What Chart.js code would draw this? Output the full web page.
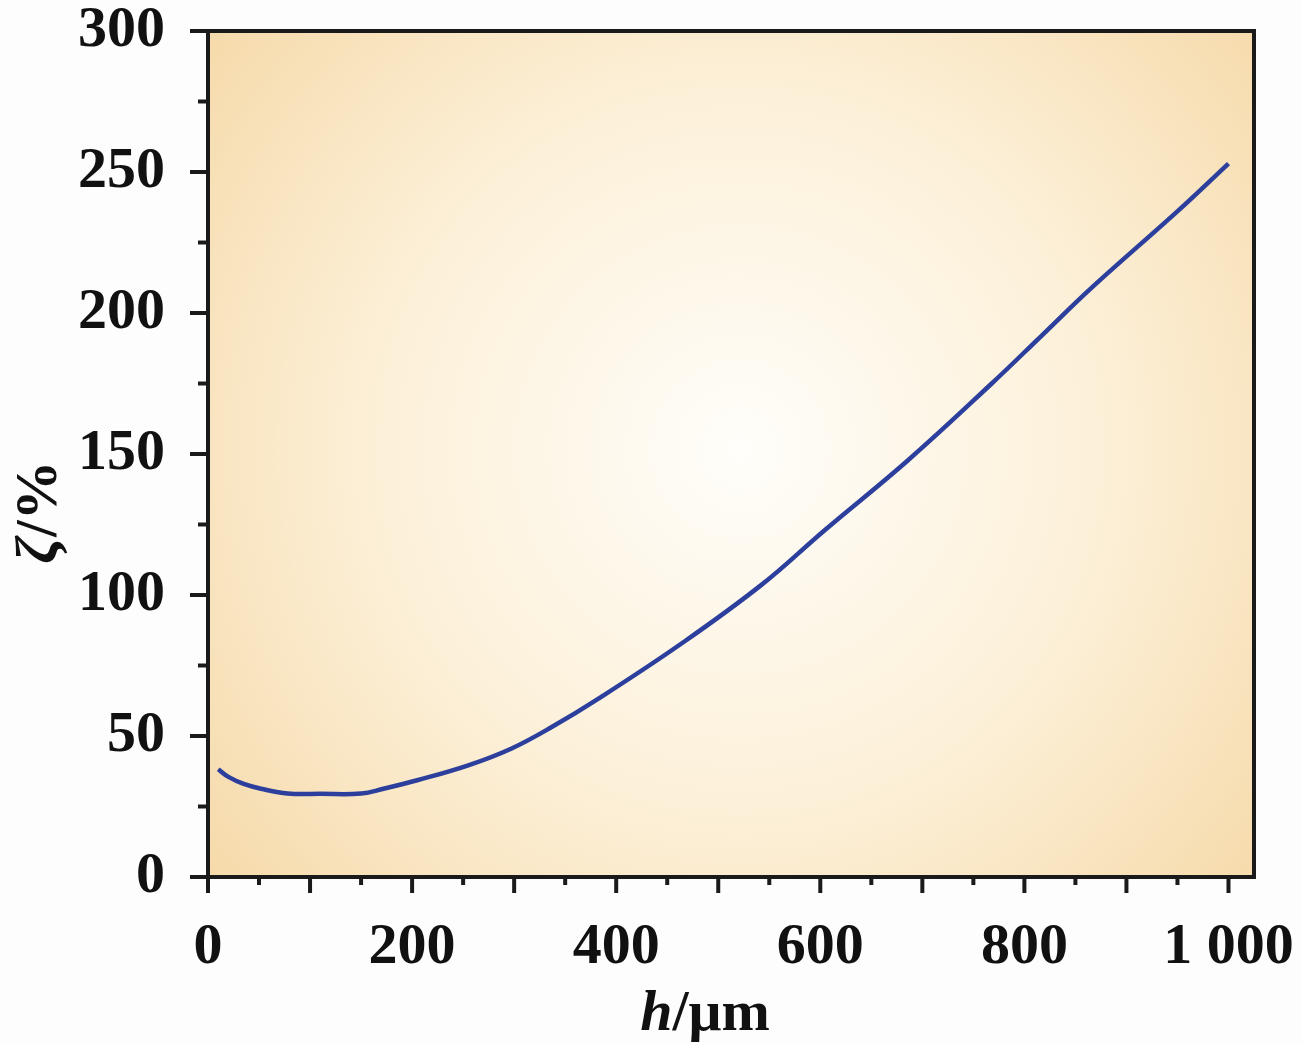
<!DOCTYPE html>
<html>
<head>
<meta charset="utf-8">
<script src="https://cdn.jsdelivr.net/npm/chart.js@4"></script>
<style>
  html, body { margin: 0; padding: 0; background: #fdfdfd; }
  #wrap { width: 1302px; height: 1044px; }
</style>
</head>
<body>
<div id="wrap"><canvas id="grafico" width="1302" height="1044"></canvas></div>
<script>
// datos
const hValues = [10, 20, 35, 52, 78, 110, 150, 172, 205, 255, 297, 336, 385, 464, 542, 604, 686, 768, 817, 866, 951, 1000];
const zetaValues = [38.2, 35.5, 33, 31.3, 29.6, 29.5, 29.6, 31.3, 34.3, 39.6, 45.5, 53, 63.8, 82.8, 103.5, 122.9, 147.8, 175, 192, 209, 236.4, 253];
const xTicks = [0, 200, 400, 600, 800, 1000];
const yTicks = [0, 50, 100, 150, 200, 250, 300];

const serif = '"Liberation Serif", "Times New Roman", serif';

// fondo degradado y marco del área
const fondo = {
  id: 'fondo',
  beforeDraw(chart) {
    const { ctx, chartArea: a } = chart;
    const g = ctx.createRadialGradient(740, 450, 0, 740, 450, 760);
    g.addColorStop(0, '#fffefa');
    g.addColorStop(0.5, '#fcefd6');
    g.addColorStop(1, '#f4d49e');
    ctx.save();
    ctx.fillStyle = g;
    ctx.fillRect(a.left, a.top, a.right - a.left, a.bottom - a.top);
    ctx.restore();
  },
  afterDraw(chart) {
    const { ctx, chartArea: a, scales } = chart;
    ctx.save();
    ctx.strokeStyle = '#1a1a1a';
    ctx.lineWidth = 4;
    ctx.strokeRect(a.left, a.top, a.right - a.left, a.bottom - a.top);

    // marcas mayores y menores
    for (let v = 0; v <= 300; v += 25) {
      const y = scales.y.getPixelForValue(v);
      const len = v % 50 === 0 ? 18 : 10;
      ctx.beginPath();
      ctx.moveTo(a.left, y);
      ctx.lineTo(a.left - len, y);
      ctx.stroke();
    }
    for (let v = 0; v <= 1000; v += 50) {
      const x = scales.x.getPixelForValue(v);
      const len = v % 100 === 0 ? 16 : 8;
      ctx.beginPath();
      ctx.moveTo(x, a.bottom);
      ctx.lineTo(x, a.bottom + len);
      ctx.stroke();
    }

    // títulos de ejes
    ctx.fillStyle = '#111';
    ctx.textBaseline = 'alphabetic';
    ctx.font = 'italic bold 58px ' + serif;
    const wh = ctx.measureText('h').width;
    ctx.font = 'bold 58px ' + serif;
    const wr = ctx.measureText('/μm').width;
    const x0 = 705 - (wh + wr) / 2;
    ctx.font = 'italic bold 58px ' + serif;
    ctx.fillText('h', x0, 1030);
    ctx.font = 'bold 58px ' + serif;
    ctx.fillText('/μm', x0 + wh, 1030);

    ctx.translate(56, 512);
    ctx.rotate(-Math.PI / 2);
    ctx.font = 'italic bold 60px ' + serif;
    const wz = ctx.measureText('ζ').width;
    ctx.font = 'bold 60px ' + serif;
    const wp = ctx.measureText('/%').width;
    const y0 = -(wz + wp) / 2;
    ctx.font = 'italic bold 60px ' + serif;
    ctx.fillText('ζ', y0, 0);
    ctx.font = 'bold 60px ' + serif;
    ctx.fillText('/%', y0 + wz, 0);
    ctx.restore();
  }
};

new Chart(document.getElementById('grafico'), {
  type: 'line',
  data: {
    datasets: [{
      data: hValues.map((h, i) => ({ x: h, y: zetaValues[i] })),
      borderColor: '#2c3f9c',
      borderWidth: 4.5,
      pointRadius: 0,
      tension: 0.4,
      fill: false
    }]
  },
  options: {
    responsive: false,
    animation: false,
    devicePixelRatio: 1,
    layout: { padding: { left: 0, top: 31, right: 48, bottom: 0 } },
    plugins: { legend: { display: false }, tooltip: { enabled: false } },
    scales: {
      x: {
        type: 'linear',
        min: 0,
        max: 1025,
        afterFit: s => { s.height = 167; s.paddingLeft = 0; s.paddingRight = 0; },
        afterBuildTicks: s => { s.ticks = xTicks.map(v => ({ value: v })); },
        grid: { display: false, drawTicks: false },
        border: { display: false },
        ticks: {
          padding: 36,
          color: '#111',
          font: { family: serif, size: 58, weight: 'bold' },
          callback: v => v === 1000 ? '1 000' : String(v),
          maxRotation: 0
        }
      },
      y: {
        type: 'linear',
        min: 0,
        max: 300,
        afterFit: s => { s.width = 208; s.paddingTop = 0; s.paddingBottom = 0; },
        afterBuildTicks: s => { s.ticks = yTicks.map(v => ({ value: v })); },
        grid: { display: false, drawTicks: false },
        border: { display: false },
        ticks: {
          padding: 43,
          color: '#111',
          font: { family: serif, size: 58, weight: 'bold' }
        }
      }
    }
  },
  plugins: [fondo]
});
</script>
</body>
</html>
